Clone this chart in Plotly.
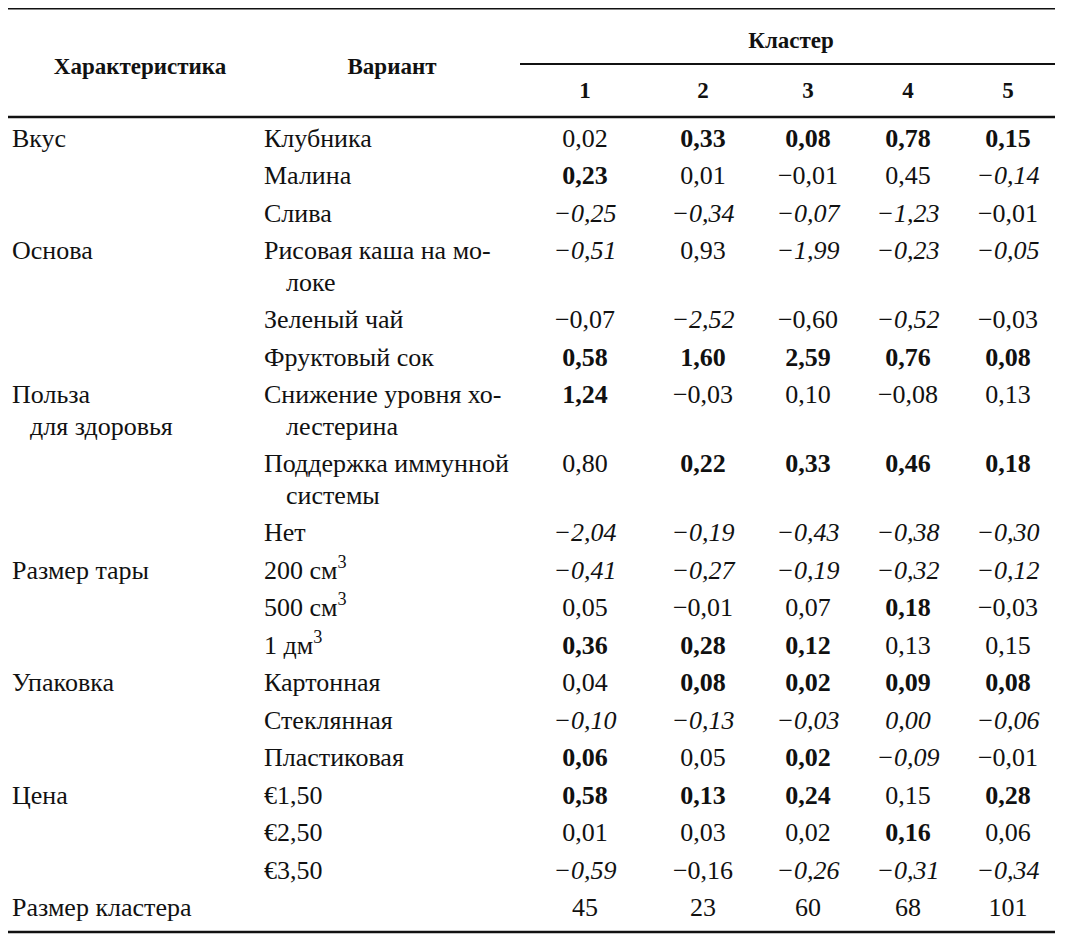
import plotly.graph_objects as go

# ---------------- data ----------------
characteristics = ["Вкус", "Основа", "Польза|для здоровья", "Размер тары", "Упаковка", "Цена", "Размер кластера"]
char_first_row = [0, 3, 6, 9, 12, 15, 18]

variants = [
    "Клубника", "Малина", "Слива",
    "Рисовая каша на мо-|локе", "Зеленый чай", "Фруктовый сок",
    "Снижение уровня хо-|лестерина", "Поддержка иммунной|системы", "Нет",
    "200 см<sup>3</sup>", "500 см<sup>3</sup>", "1 дм<sup>3</sup>",
    "Картонная", "Стеклянная", "Пластиковая",
    "€1,50", "€2,50", "€3,50",
    "",
]

cluster_labels = ["1", "2", "3", "4", "5"]

cluster1 = [0.02, 0.23, -0.25, -0.51, -0.07, 0.58, 1.24, 0.80, -2.04, -0.41, 0.05, 0.36, 0.04, -0.10, 0.06, 0.58, 0.01, -0.59]
cluster2 = [0.33, 0.01, -0.34, 0.93, -2.52, 1.60, -0.03, 0.22, -0.19, -0.27, -0.01, 0.28, 0.08, -0.13, 0.05, 0.13, 0.03, -0.16]
cluster3 = [0.08, -0.01, -0.07, -1.99, -0.60, 2.59, 0.10, 0.33, -0.43, -0.19, 0.07, 0.12, 0.02, -0.03, 0.02, 0.24, 0.02, -0.26]
cluster4 = [0.78, 0.45, -1.23, -0.23, -0.52, 0.76, -0.08, 0.46, -0.38, -0.32, 0.18, 0.13, 0.09, 0.00, -0.09, 0.15, 0.16, -0.31]
cluster5 = [0.15, -0.14, -0.01, -0.05, -0.03, 0.08, 0.13, 0.18, -0.30, -0.12, -0.03, 0.15, 0.08, -0.06, -0.01, 0.28, 0.06, -0.34]

# emphasis: b = bold (significant +), i = italic (significant -), n = normal
emph1 = ["n", "b", "i", "i", "n", "b", "b", "n", "i", "i", "n", "b", "n", "i", "b", "b", "n", "i"]
emph2 = ["b", "n", "i", "n", "i", "b", "n", "b", "i", "i", "n", "b", "b", "i", "n", "b", "n", "n"]
emph3 = ["b", "n", "i", "i", "n", "b", "n", "b", "i", "i", "n", "b", "b", "i", "b", "b", "n", "i"]
emph4 = ["b", "n", "i", "i", "i", "b", "n", "b", "i", "i", "b", "n", "b", "i", "i", "n", "b", "i"]
emph5 = ["b", "i", "n", "i", "n", "b", "n", "b", "i", "i", "n", "n", "b", "i", "n", "b", "n", "i"]

cluster_size = [45, 23, 60, 68, 101]

clusters = [cluster1, cluster2, cluster3, cluster4, cluster5]
emphs = [emph1, emph2, emph3, emph4, emph5]

# ---------------- layout helpers ----------------
W, H = 1070, 951
PAGE_MARGIN = 8          # default HTML body margin; axes are set so 1 unit = 1 screen pixel
ROW0 = 140.0
ROW_STEP = 37.5
WRAP_STEP = 31.5
X_CHAR = 12
X_CHAR_INDENT = 30
X_VAR = 264
X_VAR_INDENT = 286
X_COLS = [585, 703, 808, 908, 1008]
FONT = "Liberation Serif, Times New Roman, serif"
FS = 26
HFS = 23


def fmt(v):
    s = f"{abs(v):.2f}".replace(".", ",")
    return ("\u2212" + s) if v < 0 else s


def styled(s, e):
    if e == "b":
        return f"<b>{s}</b>"
    if e == "i":
        return f"<i>{s}</i>"
    return s


row_y = []
y = ROW0
for v in variants:
    row_y.append(y)
    y += ROW_STEP + WRAP_STEP * (v.count("|"))

fig = go.Figure()

cx, cy, ct = [], [], []
for name, r in zip(characteristics, char_first_row):
    for k, p in enumerate(name.split("|")):
        cx.append(X_CHAR if k == 0 else X_CHAR_INDENT)
        cy.append(row_y[r] + k * WRAP_STEP)
        ct.append(p)
fig.add_trace(go.Scatter(x=cx, y=cy, text=ct, mode="text", textposition="middle right",
                         textfont=dict(family=FONT, size=FS, color="#111"), hoverinfo="skip"))

vx, vy, vt = [], [], []
for r, name in enumerate(variants):
    for k, p in enumerate(name.split("|")):
        if p:
            vx.append(X_VAR if k == 0 else X_VAR_INDENT)
            vy.append(row_y[r] + k * WRAP_STEP)
            vt.append(p)
fig.add_trace(go.Scatter(x=vx, y=vy, text=vt, mode="text", textposition="middle right",
                         textfont=dict(family=FONT, size=FS, color="#111"), hoverinfo="skip"))

for j in range(5):
    texts = [styled(fmt(v), e) for v, e in zip(clusters[j], emphs[j])]
    texts.append(str(cluster_size[j]))
    ys = row_y[:len(texts)]
    fig.add_trace(go.Scatter(x=[X_COLS[j]] * len(texts), y=ys, text=texts, mode="text",
                             textposition="middle center",
                             textfont=dict(family=FONT, size=FS, color="#111"), hoverinfo="skip"))

fig.add_trace(go.Scatter(
    x=[140, 392, 791] + X_COLS,
    y=[68, 68, 42] + [92] * 5,
    text=["<b>Характеристика</b>", "<b>Вариант</b>", "<b>Кластер</b>"] + [f"<b>{c}</b>" for c in cluster_labels],
    mode="text", textposition="middle center",
    textfont=dict(family=FONT, size=HFS, color="#111"), hoverinfo="skip"))

rules = [(8, 1055, 8, 3), (520, 1055, 64, 2), (8, 1055, 117, 2.5), (8, 1055, 932, 2.5)]
for x0, x1, yy, w in rules:
    fig.add_shape(type="line", xref="x", yref="y", x0=x0, x1=x1, y0=yy, y1=yy,
                  line=dict(color="#111", width=w))

fig.update_layout(
    width=W - PAGE_MARGIN, height=H - PAGE_MARGIN, margin=dict(l=0, r=0, t=0, b=0),
    font=dict(family=FONT),
    paper_bgcolor="white", plot_bgcolor="white", showlegend=False,
    xaxis=dict(range=[PAGE_MARGIN, W], visible=False, fixedrange=True),
    yaxis=dict(range=[H, PAGE_MARGIN], visible=False, fixedrange=True),
)

fig.write_html("out.html")
